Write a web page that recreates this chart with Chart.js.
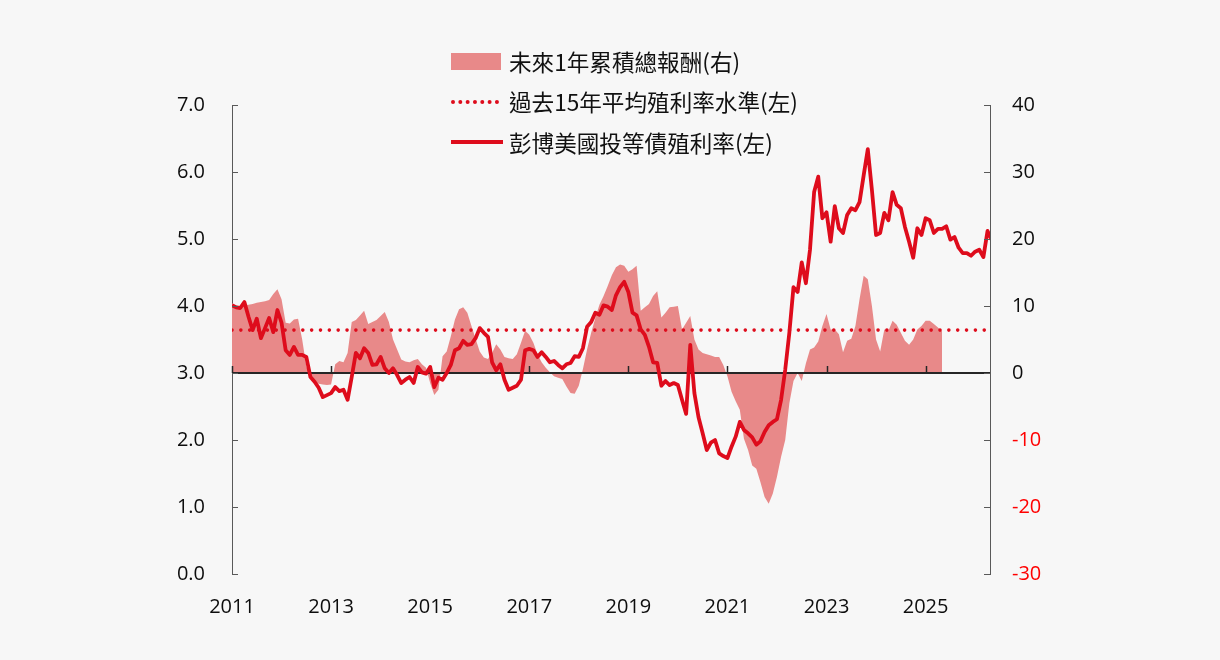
<!DOCTYPE html>
<html>
<head>
<meta charset="utf-8">
<script src="https://cdn.jsdelivr.net/npm/chart.js@4.4.1/dist/chart.umd.min.js"></script>
<style>
  html, body { margin: 0; padding: 0; background: #f7f7f7; }
  #wrap { position: relative; width: 1220px; height: 660px; }
  #legend { position: absolute; left: 451px; top: 41px; font-family: "Noto Sans CJK TC", "Noto Sans CJK SC", sans-serif; font-size: 22.6px; color: #111; }
  .row { height: 40.5px; display: flex; align-items: center; white-space: nowrap; }
  .mk { width: 50px; margin-right: 8px; flex: none; }
</style>
</head>
<body>
<div id="wrap">
  <canvas id="c" width="1220" height="660"></canvas>
  <div id="legend"></div>
</div>
<script>
// ---------------- data ----------------
const startYear = 2011;            // first monthly observation: Jan 2011
const xTickYears = [2011, 2013, 2015, 2017, 2019, 2021, 2023, 2025];
const leftTicks = [0, 1, 2, 3, 4, 5, 6, 7];
const rightTicks = [-30, -20, -10, 0, 10, 20, 30, 40];
const seriesNames = ['未來1年累積總報酬(右)', '過去15年平均殖利率水準(左)', '彭博美國投等債殖利率(左)'];

// Bloomberg US IG corporate yield (%), monthly from Jan 2011
const igYield = [
 4.01,3.98,3.97,4.06,3.84,3.64,3.81,3.52,3.67,3.82,
 3.61,3.94,3.75,3.34,3.27,3.39,3.27,3.27,3.24,2.94,
 2.87,2.78,2.64,2.67,2.70,2.79,2.73,2.75,2.60,2.94,
 3.30,3.22,3.37,3.30,3.12,3.13,3.24,3.07,3.00,3.07,
 2.97,2.85,2.90,2.94,2.85,3.09,3.01,2.99,3.09,2.79,
 2.93,2.90,3.00,3.12,3.34,3.37,3.48,3.42,3.43,3.52,
 3.67,3.60,3.54,3.16,3.04,3.13,2.90,2.75,2.78,2.81,
 2.90,3.34,3.36,3.34,3.24,3.31,3.24,3.16,3.18,3.12,
 3.07,3.13,3.15,3.25,3.24,3.37,3.69,3.76,3.90,3.87,
 4.01,3.99,3.94,4.16,4.28,4.36,4.21,3.90,3.86,3.65,
 3.57,3.39,3.16,3.15,2.81,2.88,2.82,2.85,2.82,2.60,
 2.39,3.42,2.70,2.34,2.10,1.85,1.96,2.00,1.80,1.76,
 1.73,1.90,2.05,2.27,2.15,2.10,2.04,1.93,1.98,2.12,
 2.22,2.27,2.31,2.60,3.05,3.60,4.28,4.21,4.65,4.34,
 4.84,5.70,5.93,5.31,5.40,4.96,5.49,5.16,5.09,5.36,
 5.46,5.43,5.55,5.95,6.34,5.73,5.06,5.09,5.39,5.28,
 5.70,5.51,5.46,5.18,4.96,4.72,5.16,5.06,5.31,5.28,
 5.09,5.15,5.15,5.19,4.99,5.03,4.87,4.79,4.79,4.75,
 4.81,4.84,4.73,5.12,4.99
];

// forward 1-year cumulative total return (%), monthly from Jan 2011
const fwdReturn = [
 10.4,10.1,10.0,10.1,10.2,10.3,10.5,10.6,10.7,10.9,
 11.8,12.5,11.0,7.5,7.4,8.0,8.1,5.0,1.0,-0.5,
 -1.3,-1.6,-1.7,-1.8,-1.7,1.3,1.8,1.6,3.0,7.6,
 7.9,8.6,9.3,7.3,7.6,7.9,8.5,9.1,7.6,5.0,
 3.5,2.0,1.7,1.6,1.9,2.1,1.3,0.8,-1.5,-3.3,
 -2.5,2.5,3.2,5.5,8.0,9.5,9.8,9.0,7.0,5.1,
 3.2,2.3,2.1,3.0,4.3,3.5,2.4,2.2,2.1,2.8,
 4.5,6.3,5.7,4.5,2.8,1.6,0.8,0.1,-0.5,-0.7,
 -0.9,-2.0,-3.0,-3.1,-1.9,0.6,3.5,6.0,8.2,10.2,
 11.5,13.0,14.6,15.8,16.2,16.0,15.1,15.5,16.0,9.3,
 9.8,10.3,11.5,12.2,8.3,9.0,9.8,9.9,10.0,6.5,
 7.5,8.5,5.0,3.5,3.0,2.8,2.6,2.4,2.4,1.2,
 -0.5,-2.8,-4.2,-5.5,-9.8,-11.5,-13.8,-14.3,-16.3,-18.5,
 -19.5,-18.0,-15.5,-12.5,-10.0,-4.5,-1.2,0.0,-1.2,1.4,
 3.5,3.8,4.7,7.0,8.8,6.5,6.5,5.8,3.1,4.8,
 5.1,7.0,11.0,14.5,14.0,10.0,5.0,3.2,6.5,6.3,
 7.8,7.2,6.0,4.8,4.2,5.0,6.5,7.0,7.8,7.8,
 7.3,6.8,6.2
];

const avgYield15 = 3.64;          // 15-year average yield level (%)
const xEnd = 2026.3;

// ---------------- build ----------------
const toPts = arr => arr.map((v, i) => ({ x: startYear + i / 12, y: v }));
const RED = 'rgb(222,12,28)';
const AREA = 'rgb(232,137,137)';
const AXIS = '#595959';
const TXT = '#0d0d0d';
const TICKFONT = { family: '"Open Sans", "Liberation Sans", sans-serif', size: 20 };

const axisDeco = {
  id: 'axisDeco',
  afterDatasetDraw(chart, args) {
    if (args.index !== 0) return;
    const { ctx, chartArea: a } = chart;
    const x = chart.scales.x, yR = chart.scales.yR;
    const y0 = yR.getPixelForValue(0);
    ctx.save();
    ctx.strokeStyle = '#262626';
    ctx.lineWidth = 2;
    ctx.beginPath();
    ctx.moveTo(a.left, y0); ctx.lineTo(a.right, y0);
    ctx.stroke();
    ctx.lineWidth = 1.5;
    xTickYears.forEach(yr => {
      const px = Math.round(x.getPixelForValue(yr)) + 0.5;
      ctx.beginPath(); ctx.moveTo(px, y0); ctx.lineTo(px, y0 - 7); ctx.stroke();
    });
    ctx.restore();
  },
  afterDraw(chart) {
    const { ctx, chartArea: a } = chart;
    const yL = chart.scales.y, yR = chart.scales.yR;
    ctx.save();
    ctx.strokeStyle = AXIS;
    ctx.lineWidth = 1;
    leftTicks.forEach(v => {
      const py = Math.round(yL.getPixelForValue(v)) + 0.5;
      ctx.beginPath(); ctx.moveTo(a.left, py); ctx.lineTo(a.left + 6, py); ctx.stroke();
    });
    rightTicks.forEach(v => {
      const py = Math.round(yR.getPixelForValue(v)) + 0.5;
      ctx.beginPath(); ctx.moveTo(a.right, py); ctx.lineTo(a.right - 6, py); ctx.stroke();
    });
    ctx.restore();
  }
};

const chart = new Chart(document.getElementById('c'), {
  type: 'line',
  data: {
    datasets: [
      {
        label: seriesNames[0],
        data: toPts(fwdReturn),
        yAxisID: 'yR',
        backgroundColor: AREA,
        borderWidth: 0,
        borderColor: AREA,
        fill: 'origin',
        pointRadius: 0,
        tension: 0,
        order: 3
      },
      {
        label: seriesNames[1],
        data: [{ x: startYear, y: avgYield15 }, { x: xEnd, y: avgYield15 }],
        yAxisID: 'y',
        borderColor: RED,
        borderWidth: 3.6,
        borderDash: [0, 8.85],
        borderCapStyle: 'round',
        fill: false,
        pointRadius: 0,
        order: 2
      },
      {
        label: seriesNames[2],
        data: toPts(igYield),
        yAxisID: 'y',
        borderColor: RED,
        borderWidth: 3.8,
        borderJoinStyle: 'round',
        fill: false,
        pointRadius: 0,
        tension: 0,
        order: 1
      }
    ]
  },
  options: {
    responsive: false,
    animation: false,
    devicePixelRatio: 1,
    layout: { padding: { top: 105, left: 0, right: 0, bottom: 0 } },
    plugins: { legend: { display: false }, tooltip: { enabled: false } },
    scales: {
      x: {
        type: 'linear',
        min: startYear,
        max: xEnd,
        afterFit(s) { s.height = 86; },
        afterBuildTicks(s) { s.ticks = xTickYears.map(v => ({ value: v })); },
        grid: { display: false },
        border: { display: false },
        ticks: { font: TICKFONT, color: TXT, padding: 13, maxRotation: 0, callback: v => String(v) }
      },
      y: {
        position: 'left',
        min: 0, max: 7,
        afterFit(s) { s.width = 232; },
        afterBuildTicks(s) { s.ticks = leftTicks.map(v => ({ value: v })); },
        grid: { display: true, drawOnChartArea: false, drawTicks: false },
        border: { display: true, color: AXIS, width: 1 },
        ticks: { font: TICKFONT, color: TXT, padding: 27, callback: v => v.toFixed(1) }
      },
      yR: {
        position: 'right',
        min: -30, max: 40,
        afterFit(s) { s.width = 230; },
        afterBuildTicks(s) { s.ticks = rightTicks.map(v => ({ value: v })); },
        grid: { display: true, drawOnChartArea: false, drawTicks: false },
        border: { display: true, color: AXIS, width: 1 },
        ticks: {
          font: TICKFONT, padding: 22,
          color: c => (c.tick && c.tick.value < 0) ? '#ff0000' : TXT,
          callback: v => String(v)
        }
      }
    }
  },
  plugins: [axisDeco]
});

// ---------------- HTML legend built from datasets ----------------
const lg = document.getElementById('legend');
chart.data.datasets.forEach((ds, i) => {
  const row = document.createElement('div');
  row.className = 'row';
  const mk = document.createElement('span');
  mk.className = 'mk';
  if (i === 0) { mk.style.height = '17px'; mk.style.background = ds.backgroundColor; }
  else if (i === 1) { mk.style.height = '0px'; mk.style.borderTop = '4px dotted ' + ds.borderColor; mk.style.width = '48px'; mk.style.marginRight = '10px'; }
  else { mk.style.height = '4px'; mk.style.background = ds.borderColor; mk.style.width = '52px'; mk.style.marginRight = '6px'; }
  const tx = document.createElement('span');
  tx.textContent = ds.label;
  row.appendChild(mk); row.appendChild(tx);
  lg.appendChild(row);
});
</script>
</body>
</html>
